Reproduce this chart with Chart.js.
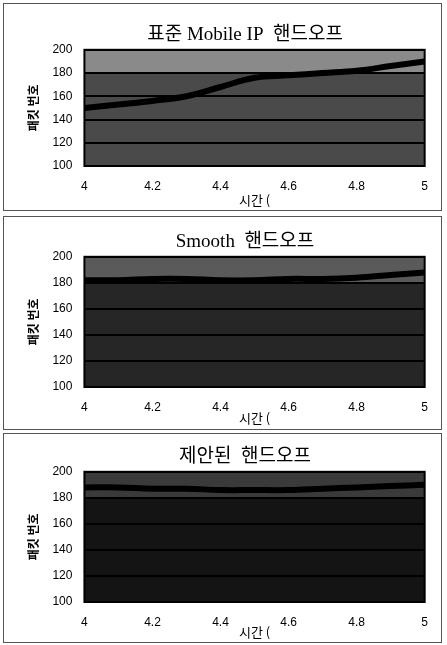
<!DOCTYPE html>
<html>
<head>
<meta charset="utf-8">
<script src="https://cdn.jsdelivr.net/npm/chart.js@4/dist/chart.umd.min.js"></script>
<style>
  body { margin: 0; background: #fff; width: 447px; height: 645px; position: relative; }
  .box { position: absolute; left: 3px; width: 439px; border: 1px solid #555; box-sizing: border-box; }
  .box canvas { display: block; }
</style>
</head>
<body>
<div class="box" style="top:3px;height:208px"><canvas id="c1" width="437" height="206"></canvas></div>
<div class="box" style="top:216px;height:214px"><canvas id="c2" width="437" height="212"></canvas></div>
<div class="box" style="top:433px;height:210px"><canvas id="c3" width="437" height="208"></canvas></div>
<script>
// time (s) and packet sequence numbers
var times = [4.0, 4.1, 4.2, 4.3, 4.4, 4.5, 4.6, 4.7, 4.8, 4.9, 5.0];
var seqStandard = [150, 153, 156, 160, 168, 176, 178, 180, 182, 186, 190];
var seqSmooth = [182, 182, 183, 183, 182, 182, 183, 183, 184, 186, 188];
var seqProposed = [188, 188, 187, 187, 186, 186, 186, 187, 188, 189, 190];

var titles = ['표준 Mobile IP  핸드오프', 'Smooth  핸드오프', '제안된  핸드오프'];
var xTicks = [4, 4.2, 4.4, 4.6, 4.8, 5];
var yTicks = [100, 120, 140, 160, 180, 200];

// shade of the plot area per panel: [upper band, lower area]
var shades = [['#8a8a8a', '#4a4a4a'], ['#5a5a5a', '#262626'], ['#3a3a3a', '#141414']];

var plotShade = {
    id: 'plotShade',
    beforeDraw: function(chart, args, opts) {
        var a = chart.chartArea;
        var ctx = chart.ctx;
        var yBand = chart.scales.y.getPixelForValue(180);
        ctx.save();
        ctx.fillStyle = opts.low;
        ctx.fillRect(a.left, a.top, a.right - a.left, a.bottom - a.top);
        ctx.fillStyle = opts.high;
        ctx.fillRect(a.left, a.top, a.right - a.left, yBand - a.top);
        ctx.restore();
    },
    afterDraw: function(chart) {
        var a = chart.chartArea;
        var ctx = chart.ctx;
        ctx.save();
        ctx.strokeStyle = '#000';
        ctx.lineWidth = 2;
        ctx.strokeRect(a.left, a.top, a.right - a.left, a.bottom - a.top);
        ctx.restore();
    }
};

function makeChart(id, idx, seq, topPad, bottomPad, titleGap) {
    var pts = times.map(function(t, i) { return { x: t, y: seq[i] }; });
    new Chart(document.getElementById(id), {
        type: 'scatter',
        data: {
            datasets: [{
                data: pts,
                showLine: true,
                borderColor: '#000',
                borderWidth: 6,
                pointRadius: 0,
                tension: 0.4
            }]
        },
        options: {
            responsive: false,
            animation: false,
            layout: { padding: { top: topPad, right: 16, left: 22, bottom: bottomPad } },
            plugins: {
                legend: { display: false },
                tooltip: { enabled: false },
                title: {
                    display: true,
                    fullSize: false,
                    text: titles[idx] + '\u00a0\u00a0\u00a0\u00a0',
                    color: '#000',
                    font: { family: '"Liberation Serif", "Noto Sans CJK KR"', size: 19, weight: 'normal' },
                    padding: { top: 0, bottom: 3 }
                },
                plotShade: { high: shades[idx][0], low: shades[idx][1] }
            },
            scales: {
                x: {
                    type: 'linear',
                    min: 4, max: 5,
                    afterBuildTicks: function(s) { s.ticks = xTicks.map(function(v) { return { value: v }; }); },
                    grid: { display: false, drawTicks: false },
                    border: { display: false },
                    ticks: {
                        color: '#000', padding: 13, maxRotation: 0,
                        font: { family: '"Liberation Sans"', size: 12 },
                        callback: function(v) { return String(v); }
                    },
                    title: {
                        display: true, text: '시간 (', color: '#000',
                        font: { family: '"Noto Sans CJK KR"', size: 13 },
                        padding: { top: titleGap, bottom: 0 }
                    }
                },
                y: {
                    min: 100, max: 200,
                    afterBuildTicks: function(s) { s.ticks = yTicks.map(function(v) { return { value: v }; }); },
                    grid: { color: '#000', lineWidth: 2, drawTicks: false },
                    border: { display: false },
                    ticks: {
                        color: '#000', padding: 12,
                        font: { family: '"Liberation Sans"', size: 12 }
                    },
                    title: {
                        display: true, text: '패킷 번호', color: '#000',
                        font: { family: '"Noto Sans CJK KR"', size: 12, weight: 'bold' },
                        padding: { top: 0, bottom: 0 }
                    }
                }
            }
        },
        plugins: [plotShade]
    });
}

makeChart('c1', 0, seqStandard, 20, 2, -14);
makeChart('c2', 1, seqSmooth, 14, 3, -17);
makeChart('c3', 2, seqProposed, 12, 2, -18);
</script>
</body>
</html>
